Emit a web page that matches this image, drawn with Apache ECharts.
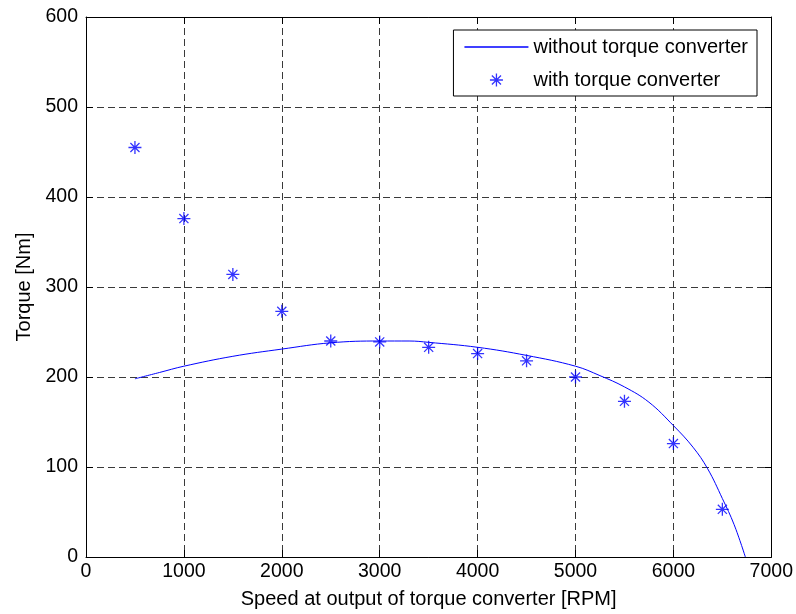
<!DOCTYPE html>
<html>
<head>
<meta charset="utf-8">
<script src="https://cdn.jsdelivr.net/npm/echarts@6/dist/echarts.min.js"></script>
<style>html,body{margin:0;padding:0;background:#fff}#c{width:796px;height:614px}</style>
</head>
<body>
<div id="c"></div>
<script>
var xTicks = [0, 1000, 2000, 3000, 4000, 5000, 6000, 7000];
var yTicks = [0, 100, 200, 300, 400, 500, 600];

var lineName = 'without torque converter';
var lineSpeed  = [500, 750, 1000, 1500, 2000, 2500, 3000, 3300, 3500, 4000, 4500, 5000, 5250, 5500, 5750, 6000, 6200, 6350, 6500, 6620, 6735];
var lineTorque = [198, 205, 212, 223, 231, 238, 240, 240, 238.5, 233, 224, 212, 201.5, 189, 172, 146, 122, 98, 65, 36, 0];

var starName = 'with torque converter';
var starSpeed  = [500, 1000, 1500, 2000, 2500, 3000, 3500, 4000, 4500, 5000, 5500, 6000, 6500];
var starTorque = [455, 376, 314, 273, 240, 239, 233, 226, 218, 200, 173, 126, 53];

var starPath = 'path://M9,0L11,0L11,20L9,20Z M0,9L20,9L20,11L0,11Z M3.7,2.3L17.7,16.3L16.3,17.7L2.3,3.7Z M16.3,2.3L17.7,3.7L3.7,17.7L2.3,16.3Z';
var lineIcon = 'path://M0,0L64,0L64,1.3L0,1.3Z';

var FONT = '"Liberation Sans", Arial, sans-serif';
var chart = echarts.init(document.getElementById('c'), null, {renderer: 'canvas'});

function zip(a, b) { return a.map(function (v, i) { return [v, b[i]]; }); }

var gridDash = {color: '#3a3a3a', width: 1, type: [7, 4]};

chart.setOption({
  animation: false,
  backgroundColor: '#ffffff',
  textStyle: {fontFamily: FONT},
  grid: {left: 86, right: 24, top: 17, bottom: 54, containLabel: false},
  legend: {
    right: 39, top: 30,
    orient: 'vertical',
    backgroundColor: '#ffffff',
    borderColor: '#000000', borderWidth: 1, borderRadius: 0,
    padding: [7, 9, 6, 11],
    itemWidth: 64, itemHeight: 13, itemGap: 13,
    textStyle: {fontFamily: FONT, fontSize: 20, color: '#000', lineHeight: 20},
    data: [{name: lineName, icon: lineIcon}, {name: starName}]
  },
  xAxis: [{
    type: 'value', min: 0, max: 7000, interval: 1000, position: 'bottom',
    name: 'Speed at output of torque converter [RPM]', nameLocation: 'middle', nameGap: 32,
    nameTextStyle: {fontFamily: FONT, fontSize: 20, color: '#000'},
    axisLine: {show: true, onZero: false, lineStyle: {color: '#000', width: 1}},
    axisTick: {show: true, inside: true, length: 7, lineStyle: {color: '#000'}},
    axisLabel: {fontFamily: FONT, fontSize: 19.5, color: '#000', margin: 5,
      formatter: function (v) { return xTicks.indexOf(v) >= 0 ? String(v) : ''; }},
    splitLine: {show: true, lineStyle: gridDash}
  }, {
    type: 'value', min: 0, max: 7000, interval: 1000, position: 'top',
    axisLine: {show: true, onZero: false, lineStyle: {color: '#000', width: 1}},
    axisTick: {show: true, inside: true, length: 7, lineStyle: {color: '#000'}},
    axisLabel: {show: false}, splitLine: {show: false}
  }],
  yAxis: [{
    type: 'value', min: 0, max: 600, interval: 100, position: 'left',
    name: 'Torque [Nm]', nameLocation: 'middle', nameGap: 52, nameRotate: 90,
    nameTextStyle: {fontFamily: FONT, fontSize: 20, color: '#000'},
    axisLine: {show: true, onZero: false, lineStyle: {color: '#000', width: 1}},
    axisTick: {show: true, inside: true, length: 7, lineStyle: {color: '#000'}},
    axisLabel: {fontFamily: FONT, fontSize: 19.5, color: '#000', margin: 8,
      formatter: function (v) { return yTicks.indexOf(v) >= 0 ? String(v) : ''; }},
    splitLine: {show: true, lineStyle: gridDash}
  }, {
    type: 'value', min: 0, max: 600, interval: 100, position: 'right',
    axisLine: {show: true, onZero: false, lineStyle: {color: '#000', width: 1}},
    axisTick: {show: true, inside: true, length: 7, lineStyle: {color: '#000'}},
    axisLabel: {show: false}, splitLine: {show: false}
  }],
  series: [{
    name: lineName, type: 'line', xAxisIndex: 0, yAxisIndex: 0,
    data: zip(lineSpeed, lineTorque),
    symbol: 'none', smooth: 0.4,
    lineStyle: {color: '#0000ff', width: 1},
    itemStyle: {color: '#0000ff'}
  }, {
    name: starName, type: 'scatter', xAxisIndex: 0, yAxisIndex: 0,
    data: zip(starSpeed, starTorque),
    symbol: starPath, symbolSize: 13,
    itemStyle: {color: '#0000ff'}
  }]
});
</script>
</body>
</html>
